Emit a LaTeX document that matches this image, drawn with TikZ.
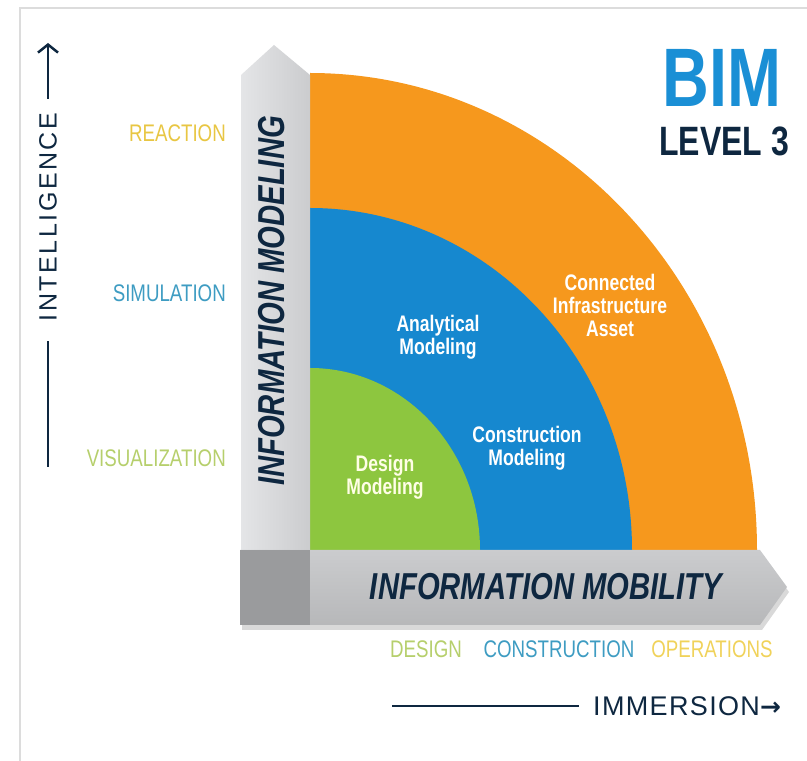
\documentclass[tikz,border=0pt]{standalone}
\usepackage{fontspec}
\setmainfont{Liberation Sans}
\newfontfamily\cond[FakeStretch=0.78]{Liberation Sans}
\newfontfamily\arrowfont{DejaVu Sans}
\usepackage{xcolor}
\usetikzlibrary{arrows.meta,shadows}
\definecolor{bimorange}{HTML}{F6981D}
\definecolor{bimblue}{HTML}{1688CF}
\definecolor{bimgreen}{HTML}{8DC63F}
\definecolor{bimnavy}{HTML}{0E2740}
\definecolor{titleblue}{HTML}{1A8FD5}
\definecolor{barlight}{HTML}{E4E5E7}
\definecolor{barmid}{HTML}{CBCCCE}
\definecolor{bardark}{HTML}{9A9B9D}
\definecolor{framegray}{HTML}{DCDCDC}
\definecolor{reactyellow}{HTML}{E8C643}
\definecolor{simblue}{HTML}{3E9CC2}
\definecolor{visgreen}{HTML}{B6CF6C}
\definecolor{opsyellow}{HTML}{F0D25A}

\begin{document}
\begin{tikzpicture}[x=1pt,y=1pt,
    ring label/.style={text=#1,font=\cond\bfseries\fontsize{22.5}{23}\selectfont,align=center,inner sep=0pt},
    stage label/.style={text=#1,font=\cond\fontsize{24}{24}\selectfont,inner sep=0pt},
    bar text/.style={text=bimnavy,font=\cond\bfseries\itshape\fontsize{37.5}{37.5}\selectfont,inner sep=0pt},
    axis text/.style={text=bimnavy,inner sep=0pt}]
    \useasboundingbox (0,0) rectangle (807,761);
    \draw[framegray,line width=2pt] (20,0) -- (20,753) -- (807,753);

    % rings
    \fill[bimorange] (310,211) -- (757,211) arc[start angle=0,end angle=90,x radius=447pt,y radius=477pt] -- cycle;
    \fill[bimblue] (310,211) -- (632,211) arc[start angle=0,end angle=90,x radius=322pt,y radius=342pt] -- cycle;
    \fill[bimgreen] (310,211) -- (480,211) arc[start angle=0,end angle=90,x radius=170pt,y radius=182pt] -- cycle;

    % bars
    \shade[left color=barlight,right color=barmid] (241,211) -- (241,686) -- (274,716) -- (310,686) -- (310,211) -- cycle;
    \shade[top color=barmid,bottom color=barmid!90!black,drop shadow={shadow xshift=2pt,shadow yshift=-5pt,opacity=0.3}]
        (240,136) -- (760,136) -- (787,174) -- (760,211) -- (240,211) -- cycle;
    \fill[bardark] (240,136) rectangle (310,211);

    \node[bar text,rotate=90] (modeling) at (272,460) {INFORMATION MODELING};
    \node[bar text] (mobility) at (546,174) {INFORMATION MOBILITY};

    \node[ring label=white] (connected) at (610,456) {Connected\\Infrastructure\\Asset};
    \node[ring label=white] (analytical) at (438,424) {Analytical\\Modeling};
    \node[ring label=white] (construction) at (527,313) {Construction\\Modeling};
    \node[ring label=yellow!10] (design) at (385,284) {Design\\Modeling};

    \node[text=titleblue,font=\cond\bfseries\fontsize{83}{83}\selectfont,inner sep=0pt] (bim) at (722,683) {BIM};
    \node[text=bimnavy,font=\cond\bfseries\fontsize{41}{41}\selectfont,inner sep=0pt] (level) at (724,620) {LEVEL 3};

    \node[stage label=reactyellow,anchor=east] (reaction) at (226,628) {REACTION};
    \node[stage label=simblue,anchor=east] (simulation) at (226,468) {SIMULATION};
    \node[stage label=visgreen,anchor=east] (visualization) at (226,303) {VISUALIZATION};

    \node[stage label=visgreen] (designstage) at (426,112) {DESIGN};
    \node[stage label=simblue] (constructionstage) at (559,112) {CONSTRUCTION};
    \node[stage label=opsyellow] (operations) at (712,112) {OPERATIONS};

    % axes
    \node[axis text,rotate=90,font=\fontsize{25}{25}\selectfont\addfontfeatures{LetterSpace=10}] (intelligence) at (48,544) {INTELLIGENCE};
    \coordinate (intel top) at (48,718);
    \coordinate (intel foot) at (48,294);
    \draw[bimnavy,line width=2.5pt,-{Straight Barb[length=8pt,width=20pt]}] ([yshift=14pt]intelligence.east) -- (intel top);
    \draw[bimnavy,line width=2.5pt] ([yshift=-20pt]intelligence.west) -- (intel foot);

    \node[axis text,anchor=west,font=\fontsize{27}{27}\selectfont\addfontfeatures{LetterSpace=5}] (immersion) at (593,55) {IMMERSION{\arrowfont\bfseries\fontsize{25}{25}\selectfont →}};
    \coordinate (immersion tail) at (392,55);
    \draw[bimnavy,line width=2.5pt] (immersion tail) -- ([xshift=-14pt]immersion.west);
\end{tikzpicture}
\end{document}
